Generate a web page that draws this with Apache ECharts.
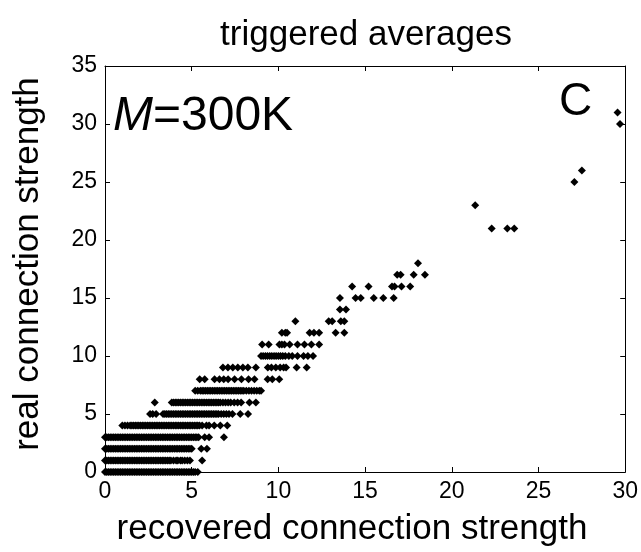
<!DOCTYPE html>
<html>
<head>
<meta charset="utf-8">
<script src="https://cdn.jsdelivr.net/npm/echarts@6/dist/echarts.min.js"></script>
<style>html,body{margin:0;padding:0;background:#fff;}#c{width:641px;height:552px;}</style>
</head>
<body>
<div id="c"></div>
<script>
// Tick labels
const xTicks = [0, 5, 10, 15, 20, 25, 30];
const yTicks = [0, 5, 10, 15, 20, 25, 30, 35];

// recovered connection strength (x) for each real connection strength (y) row
const x_y0 = [0,0.1,0.2,0.3,0.4,0.5,0.6,0.7,0.8,0.9,1.0,1.1,1.2,1.3,1.4,1.5,1.6,1.7,1.8,1.9,2.0,2.1,2.2,2.3,2.4,2.5,2.6,2.7,2.8,2.9,3.0,3.1,3.2,3.3,3.4,3.5,3.6,3.7,3.8,3.9,4.0,4.1,4.2,4.3,4.4,4.5,4.6,4.7,4.8,4.9,5.0,5.1,5.2,5.35];
const x_y1 = [0,0.1,0.2,0.3,0.4,0.5,0.6,0.7,0.8,0.9,1.0,1.1,1.2,1.3,1.4,1.5,1.6,1.7,1.8,1.9,2.0,2.1,2.2,2.3,2.4,2.5,2.6,2.7,2.8,2.9,3.0,3.1,3.2,3.3,3.4,3.5,3.6,3.7,3.8,3.95,4.1,4.2,4.35,4.45,4.6,4.75,4.9,5.6];
const x_y2 = [0,0.1,0.2,0.3,0.4,0.5,0.6,0.7,0.8,0.9,1.0,1.1,1.2,1.3,1.4,1.5,1.6,1.7,1.8,1.9,2.0,2.1,2.2,2.3,2.4,2.5,2.6,2.7,2.8,2.9,3.0,3.1,3.2,3.3,3.4,3.5,3.6,3.7,3.8,3.9,4.0,4.1,4.2,4.3,4.4,4.5,4.6,4.7,4.8,4.9,5.0,5.55,5.88];
const x_y3 = [0,0.1,0.2,0.3,0.4,0.5,0.6,0.7,0.8,0.9,1.0,1.1,1.2,1.3,1.4,1.5,1.6,1.7,1.8,1.9,2.0,2.1,2.2,2.3,2.4,2.5,2.6,2.7,2.8,2.9,3.0,3.1,3.2,3.3,3.4,3.5,3.6,3.7,3.8,3.9,4.0,4.1,4.2,4.3,4.4,4.5,4.6,4.7,4.8,4.9,5.0,5.1,5.2,5.3,5.4,5.75,6.0,6.86];
const x_y4 = [1.0,1.15,1.3,1.45,1.55,1.65,1.75,1.85,1.95,2.05,2.15,2.25,2.35,2.45,2.55,2.65,2.75,2.85,2.95,3.05,3.15,3.25,3.35,3.45,3.55,3.65,3.75,3.85,3.95,4.05,4.15,4.25,4.35,4.45,4.55,4.65,4.75,4.85,4.95,5.05,5.15,5.25,5.35,5.45,5.6,5.85,6.0,6.3,6.65,7.05];
const x_y5 = [2.6,2.75,2.95,3.35,3.45,3.55,3.65,3.75,3.85,3.95,4.05,4.15,4.25,4.35,4.45,4.55,4.65,4.75,4.85,4.95,5.05,5.15,5.25,5.35,5.45,5.55,5.65,5.75,5.85,5.95,6.05,6.15,6.25,6.35,6.45,6.55,6.7,6.85,7.0,7.15,7.35,7.8,8.25];
const x_y6 = [2.87,3.85,3.95,4.05,4.15,4.25,4.35,4.45,4.55,4.65,4.75,4.85,4.95,5.05,5.15,5.25,5.35,5.45,5.55,5.65,5.75,5.85,5.95,6.05,6.15,6.25,6.35,6.45,6.55,6.65,6.8,6.95,7.1,7.25,7.45,7.65,7.85,8.33,8.7];
const x_y7 = [5.2,5.35,5.5,5.6,5.7,5.8,5.9,6.0,6.1,6.2,6.3,6.4,6.5,6.6,6.7,6.8,6.9,7.0,7.1,7.2,7.3,7.4,7.5,7.6,7.7,7.8,7.9,8.0,8.15,8.3,8.45,8.6,8.75,8.9,9.0];
const x_y8 = [5.46,5.75,6.32,6.6,6.85,7.1,7.47,7.87,8.28,8.62,9.38,9.65,10.05];
const x_y9 = [6.8,7.09,7.37,7.66,7.95,8.24,8.7,9.39,9.6,9.85,10.1,10.3,10.44,11.05,11.63];
const x_y10 = [9.0,9.12,9.25,9.37,9.5,9.62,9.75,9.87,10.0,10.12,10.25,10.4,10.6,10.8,11.1,11.45,11.7,12.0];
const x_y11 = [9.06,9.44,10.06,10.2,10.35,10.65,11.1,11.5,11.9,12.35];
const x_y12 = [10.2,10.4,10.5,11.8,12.05,12.35,13.3,13.8];
const x_y13 = [10.98,12.9,13.1,13.6,13.8];
const x_y14 = [13.55,13.9];
const x_y15 = [13.55,14.45,14.75,15.5,16.05,16.65];
const x_y16 = [14.25,15.2,16.55,16.7,17.1,17.6];
const x_y17 = [16.85,17.05,17.8,18.45];
const x_y18 = [18.05];
const x_y21 = [22.3,23.2,23.6];
const x_y23 = [21.35];
const x_y25 = [27.07];
const x_y26 = [27.5];
const x_y30 = [29.7];
const x_y31 = [29.56];

const rowValues = [0,1,2,3,4,5,6,7,8,9,10,11,12,13,14,15,16,17,18,21,23,25,26,30,31];
const rowXs = [x_y0,x_y1,x_y2,x_y3,x_y4,x_y5,x_y6,x_y7,x_y8,x_y9,x_y10,x_y11,x_y12,x_y13,x_y14,x_y15,x_y16,x_y17,x_y18,x_y21,x_y23,x_y25,x_y26,x_y30,x_y31];

const points = [];
rowValues.forEach((yv, i) => rowXs[i].forEach(xv => points.push([xv, yv])));

const FONT = "'Liberation Sans', Arial, Helvetica, sans-serif";
const chart = echarts.init(document.getElementById('c'), null, {renderer: 'canvas'});

const baseAxis = {
  type: 'value',
  axisLine: {show: true, onZero: false, lineStyle: {color: '#000', width: 1}},
  axisTick: {show: true, inside: true, length: 5, lineStyle: {color: '#000', width: 1}},
  splitLine: {show: false}
};

chart.setOption({
  animation: false,
  backgroundColor: '#fff',
  grid: {left: 105, right: 14, top: 66, bottom: 80, containLabel: false},
  xAxis: [
    Object.assign({}, baseAxis, {
      min: 0, max: 30, interval: 5, position: 'bottom',
      axisLabel: {show: true, margin: 8, fontSize: 23, color: '#000', fontFamily: FONT,
        formatter: v => xTicks.includes(v) ? String(v) : ''}
    }),
    Object.assign({}, baseAxis, {
      min: 0, max: 30, interval: 5, position: 'top', axisLabel: {show: false}
    })
  ],
  yAxis: [
    Object.assign({}, baseAxis, {
      min: 0, max: 35, interval: 5, position: 'left',
      axisLabel: {show: true, margin: 8, fontSize: 23, color: '#000', fontFamily: FONT,
        formatter: v => yTicks.includes(v) ? String(v) : ''}
    }),
    Object.assign({}, baseAxis, {
      min: 0, max: 35, interval: 5, position: 'right', axisLabel: {show: false}
    })
  ],
  series: [{
    type: 'scatter',
    xAxisIndex: 0,
    yAxisIndex: 0,
    symbol: 'diamond',
    symbolSize: 8,
    itemStyle: {color: '#000', opacity: 1},
    data: points,
    z: 3
  }],
  graphic: [
    {type: 'text', x: 366, y: 35, style: {text: 'triggered averages', fontSize: 35, fontFamily: FONT, fill: '#000', textAlign: 'center', textVerticalAlign: 'middle'}},
    {type: 'text', x: 352, y: 529, style: {text: 'recovered connection strength', fontSize: 35, fontFamily: FONT, fill: '#000', textAlign: 'center', textVerticalAlign: 'middle'}},
    {type: 'text', x: 28, y: 264, rotation: Math.PI / 2, style: {text: 'real connection strength', fontSize: 35, fontFamily: FONT, fill: '#000', textAlign: 'center', textVerticalAlign: 'middle'}},
    {type: 'text', x: 113, y: 117, style: {text: '{i|M}{n|=300K}', textAlign: 'left', textVerticalAlign: 'middle',
      rich: {i: {fontSize: 48, fontStyle: 'italic', fontFamily: FONT, fill: '#000'}, n: {fontSize: 48, fontFamily: FONT, fill: '#000'}}}},
    {type: 'text', x: 559, y: 102, style: {text: 'C', fontSize: 46, fontFamily: FONT, fill: '#000', textAlign: 'left', textVerticalAlign: 'middle'}}
  ]
});
</script>
</body>
</html>
